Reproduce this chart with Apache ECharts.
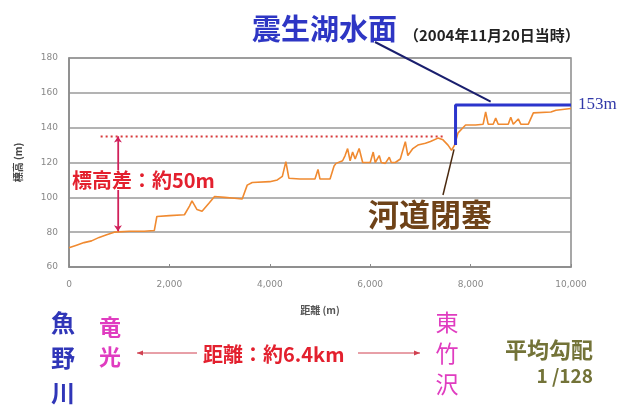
<!DOCTYPE html>
<html><head><meta charset="utf-8">
<script src="https://cdn.jsdelivr.net/npm/echarts@6/dist/echarts.min.js"></script>
<style>html,body{margin:0;padding:0;background:#fff}#c{width:631px;height:407px}</style>
</head><body><div id="c"></div>
<script>
// River-bed profile (distance m, elevation m)
const distance = [0,150,300,450,600,750,900,1200,1500,1700,1750,2000,2300,2400,2450,2550,2650,2800,2900,3100,3300,3450,3550,3650,4000,4150,4250,4320,4380,4600,4900,4960,5000,5200,5280,5320,5450,5500,5550,5600,5650,5700,5780,5850,6000,6060,6100,6180,6220,6300,6380,6420,6500,6600,6700,6750,6850,6950,7100,7200,7350,7450,7550,7620,7680,7750,7900,8100,8250,8300,8350,8450,8500,8550,8750,8800,8850,8950,9000,9150,9250,9600,9700,10000];
const elevation = [71,72.5,74,75,77,78.5,80,80.5,80.5,81,89,89.5,90,95,98,93,92,97,100.5,100,99.5,99,107,108.5,109,110,112,120.5,111,110.5,110.5,116,110.5,110.5,118,119.5,121,124,128,121,126,122,128,120,120,126,120,124,120,119.5,123,120,120,122,132,124,128,130,131,132,134,133,130,127,130,137,141.5,141.5,142,149,142,142,145.5,142,142,146,142,145,142,142,148.5,149,150,151];
// Lake surface (2004-11-20)
const lakeX = [7700, 7700, 10000];
const lakeY = [130, 153, 153];
// Reference level (dotted) and elevation difference arrow
const refX = [630, 7450];
const refY = [135, 135];
const diffX = [975, 975];
const diffY = [135, 80.5];
// Axis ticks
const yTicks = [60, 80, 100, 120, 140, 160, 180];
const xTicks = [0, 2000, 4000, 6000, 8000, 10000];
// Pointer targets (data coords)
const lakePointer = [8400, 155];
const blockPointer = [7670, 127.5];

const JP = '"Noto Sans CJK JP", "Noto Sans", sans-serif';
const chart = echarts.init(document.getElementById('c'), null, {renderer: 'canvas'});
const zip = (a, b) => a.map((v, i) => [v, b[i]]);

chart.setOption({
  animation: false,
  backgroundColor: '#fff',
  grid: {left: 69, right: 60, top: 58, bottom: 140, show: true, borderColor: '#8a8a8a', borderWidth: 1.5},
  xAxis: {
    type: 'value', min: xTicks[0], max: xTicks[xTicks.length - 1], interval: 2000,
    name: '距離 (m)', nameLocation: 'middle', nameGap: 38,
    nameTextStyle: {fontFamily: JP, fontSize: 10, color: '#555', fontWeight: 'bold'},
    axisLine: {lineStyle: {color: '#8a8a8a', width: 1.5}},
    axisTick: {inside: true, length: 3, lineStyle: {color: '#8a8a8a'}},
    splitLine: {show: false},
    axisLabel: {color: '#888', fontSize: 9, margin: 13, fontFamily: 'DejaVu Sans',
      formatter: v => v.toLocaleString('en-US')}
  },
  yAxis: {
    type: 'value', min: yTicks[0], max: yTicks[yTicks.length - 1], interval: 20,
    name: '標高 (m)', nameLocation: 'middle', nameGap: 46, nameRotate: 90,
    nameTextStyle: {fontFamily: JP, fontSize: 10, color: '#444', fontWeight: 'bold'},
    axisLine: {show: true, lineStyle: {color: '#8a8a8a', width: 1.5}},
    axisTick: {show: false},
    splitLine: {lineStyle: {color: '#9a9a9a', width: 1.5}},
    axisLabel: {color: '#888', fontSize: 9, margin: 11, fontFamily: 'DejaVu Sans'}
  },
  series: [
    {type: 'line', data: zip(refX, refY), symbol: 'none', silent: true,
      lineStyle: {color: '#d83a3a', width: 2, type: [2, 3]}, z: 2},
    {type: 'line', data: zip(distance, elevation), symbol: 'none',
      lineStyle: {color: '#f08a30', width: 1.6}, z: 3},
    {type: 'line', data: zip(lakeX, lakeY), symbol: 'none',
      lineStyle: {color: '#2b35cc', width: 3}, z: 4},
    {type: 'line', data: zip(diffX, diffY), symbol: 'none',
      lineStyle: {color: '#d0205a', width: 1.2}, z: 2,
      markLine: {silent: true, symbol: ['arrow', 'arrow'], symbolSize: 6, label: {show: false},
        lineStyle: {color: '#d0205a', width: 1.2, type: 'solid'},
        data: [[{coord: [diffX[0], diffY[0]]}, {coord: [diffX[1], diffY[1]]}]]}}
  ]
});

const lp = chart.convertToPixel({gridIndex: 0}, lakePointer);
const bp = chart.convertToPixel({gridIndex: 0}, blockPointer);
const lvl = chart.convertToPixel({gridIndex: 0}, [10000, lakeY[1]]);

function txt(x, y, text, size, color, weight, align, extra) {
  return Object.assign({type: 'text', x: x, y: y, z: 100,
    style: Object.assign({text: text, fontSize: size, fill: color, fontWeight: weight || 'bold',
      fontFamily: JP, align: align || 'left', verticalAlign: 'middle'}, extra || {})});
}

chart.setOption({graphic: [
  {type: 'line', z: 90, shape: {x1: 375, y1: 42, x2: lp[0], y2: lp[1]}, style: {stroke: '#1a1f6e', lineWidth: 2}},
  {type: 'line', z: 90, shape: {x1: 443, y1: 195, x2: bp[0], y2: bp[1]}, style: {stroke: '#4a2a10', lineWidth: 1.5}},
  txt(252, 29, '震生湖水面', 29, '#2e36c4'),
  txt(404, 35, '（2004年11月20日当時）', 15, '#222'),
  txt(lvl[0] + 7, lvl[1], '153m', 17, '#3038a8', 'normal', 'left', {fontFamily: '"Liberation Serif", serif'}),
  txt(72, 180, '標高差：約50m', 20, '#e3202e', 'bold', 'left', {backgroundColor: '#fff'}),
  txt(368, 214, '河道閉塞', 31, '#6e4218'),
  txt(63, 358, '魚\n野\n川', 24, '#3036b8', 'bold', 'center', {lineHeight: 35}),
  txt(110, 342, '竜\n光', 22, '#e03cc0', 'bold', 'center', {lineHeight: 30}),
  txt(447, 353, '東\n竹\n沢', 23, '#e03cc0', 'normal', 'center', {lineHeight: 31}),
  {type: 'line', z: 90, shape: {x1: 137, y1: 353, x2: 197, y2: 353}, style: {stroke: '#d04050', lineWidth: 1}},
  {type: 'polygon', z: 90, shape: {points: [[137, 353], [143, 350.5], [143, 355.5]]}, style: {fill: '#d04050'}},
  txt(203, 354, '距離：約6.4km', 20, '#e3202e'),
  {type: 'line', z: 90, shape: {x1: 358, y1: 353, x2: 420, y2: 353}, style: {stroke: '#d04050', lineWidth: 1}},
  {type: 'polygon', z: 90, shape: {points: [[420, 353], [414, 350.5], [414, 355.5]]}, style: {fill: '#d04050'}},
  txt(593, 350, '平均勾配', 22, '#737338', 'bold', 'right'),
  txt(593, 376, '1 /128', 19, '#737338', 'bold', 'right')
]});
</script>
</body></html>
